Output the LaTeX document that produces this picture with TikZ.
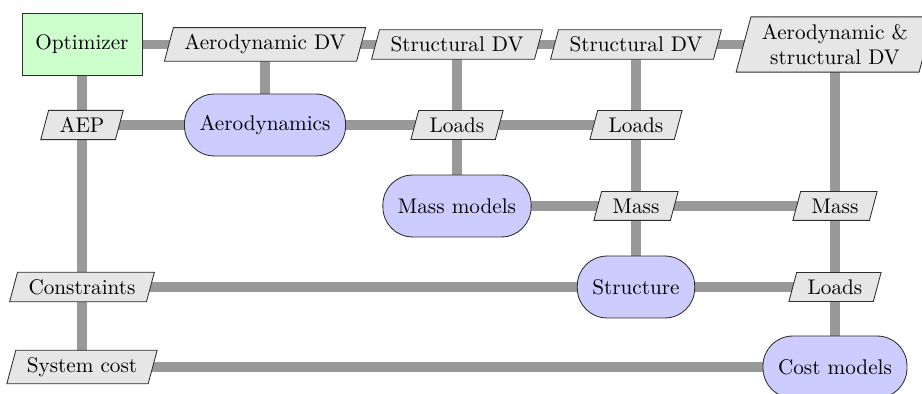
\documentclass[tikz,border=0pt]{standalone}
\usepackage{tikz}
\usetikzlibrary{shapes.geometric, backgrounds}
\definecolor{mydark}{RGB}{45,45,45}
\definecolor{myline}{RGB}{153,153,153}
\definecolor{hdrgreen}{RGB}{204,255,204}
\definecolor{hdrblue}{RGB}{204,204,255}
\definecolor{hdrgray}{RGB}{230,230,230}
\tikzset{
  optblock/.style={rectangle, draw=mydark, fill=hdrgreen,
    minimum width=56.6pt, minimum height=29.2pt, line width=0.4pt},
  funcblock/.style={rectangle, draw=mydark, fill=hdrblue,
    inner xsep=7.1pt, minimum height=29.2pt,
    rounded corners=14pt, line width=0.4pt},
  datablock/.style={trapezium, trapezium left angle=75, trapezium right angle=105,
    draw=mydark, fill=hdrgray, inner xsep=5.2pt, align=center, line width=0.4pt},
  dataline/.style={line width=4.7pt, color=myline}
}

\begin{document}
\begin{tikzpicture}[x=0.4717pt, y=-0.4717pt]
  \useasboundingbox (0,0) rectangle (922,394);
  % top row: optimizer and design variables
  \node[optblock] (opt) at (82,44.5) {Optimizer};
  \node[datablock] (aerodv) at (265,44.5) {Aerodynamic DV};
  \node[datablock] (strdvA) at (457,44.5) {Structural DV};
  \node[datablock] (strdvB) at (636,44.5) {Structural DV};
  \node[datablock] (asdv) at (835,44.5) {Aerodynamic \&\\structural DV};
  % second row
  \node[datablock] (aep) at (82,125) {AEP};
  \node[funcblock] (aero) at (265,125) {Aerodynamics};
  \node[datablock] (loadsA) at (457,125) {Loads};
  \node[datablock] (loadsB) at (636,125) {Loads};
  % third row
  \node[funcblock] (massmod) at (457,206) {Mass models};
  \node[datablock] (massA) at (636,206) {Mass};
  \node[datablock] (massB) at (835,206) {Mass};
  % fourth row
  \node[datablock] (con) at (82,287) {Constraints};
  \node[funcblock] (struct) at (636,287) {Structure};
  \node[datablock] (loadsC) at (835,287) {Loads};
  % bottom row
  \node[datablock] (cost) at (82,367) {System cost};
  \node[funcblock] (costmod) at (835,367) {Cost models};
  % data paths behind the blocks
  \begin{scope}[on background layer]
    \draw[dataline] (opt.center) -- (aerodv.center) -- (strdvA.center)
      -- (strdvB.center) -- (asdv.center);
    \draw[dataline] (opt.center) -- (aep.center) -- (con.center) -- (cost.center);
    \draw[dataline] (aerodv.center) -- (aero.center);
    \draw[dataline] (aep.center) -- (aero.center) -- (loadsA.center) -- (loadsB.center);
    \draw[dataline] (strdvA.center) -- (loadsA.center) -- (massmod.center);
    \draw[dataline] (strdvB.center) -- (loadsB.center) -- (massA.center) -- (struct.center);
    \draw[dataline] (massmod.center) -- (massA.center) -- (massB.center);
    \draw[dataline] (asdv.center) -- (massB.center) -- (loadsC.center) -- (costmod.center);
    \draw[dataline] (con.center) -- (struct.center) -- (loadsC.center);
    \draw[dataline] (cost.center) -- (costmod.center);
  \end{scope}
\end{tikzpicture}
\end{document}
